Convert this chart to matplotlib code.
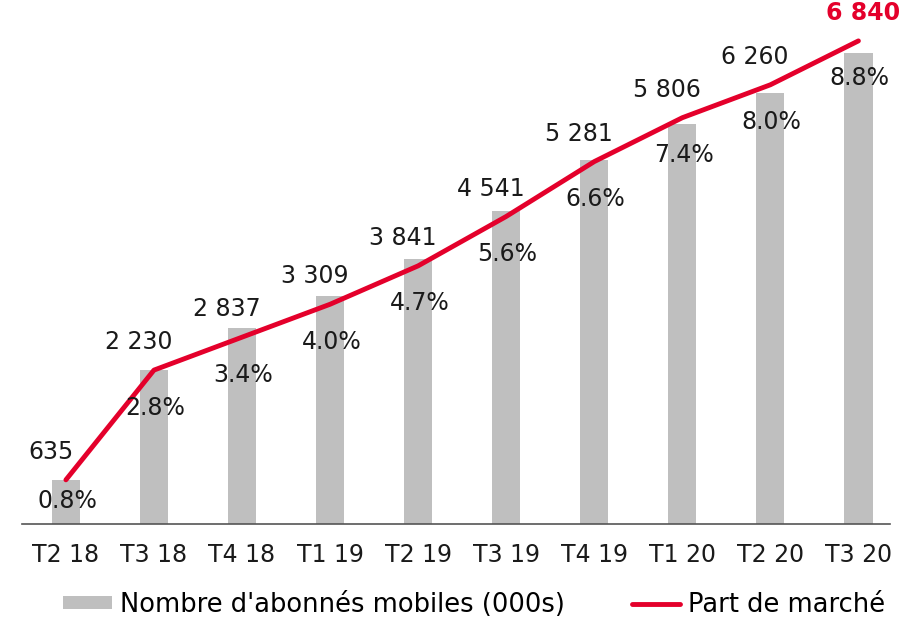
import matplotlib.pyplot as plt
import numpy as np

# ── Data ──────────────────────────────────────────────────────────────────────
quarters = ["T2 18", "T3 18", "T4 18", "T1 19", "T2 19", "T3 19", "T4 19", "T1 20", "T2 20", "T3 20"]
subscribers = [635, 2230, 2837, 3309, 3841, 4541, 5281, 5806, 6260, 6840]
market_share = [0.8, 2.8, 3.4, 4.0, 4.7, 5.6, 6.6, 7.4, 8.0, 8.8]

BAR_COLOR = "#BFBFBF"
LINE_COLOR = "#E4002B"
TEXT_COLOR = "#1a1a1a"
FS = 17

plt.rcParams["font.family"] = ["DejaVu Sans"]

fig = plt.figure(figsize=(9.12, 6.22), dpi=100)
ax = fig.add_axes([0.024, 0.158, 0.952, 0.808])
ax2 = ax.twinx()

x = np.arange(len(quarters))
ax.bar(x, subscribers, width=0.32, color=BAR_COLOR, zorder=1,
       label="Nombre d'abonnés mobiles (000s)")
ax2.plot(x, market_share, color=LINE_COLOR, lw=3.5, solid_capstyle="round",
         label="Part de marché", zorder=3)

ax.set_xlim(-0.5, 9.36)
ax.set_ylim(0, 7300)
ax2.set_ylim(0, 9.16)

for a in (ax, ax2):
    for side in ("top", "left", "right", "bottom"):
        a.spines[side].set_visible(False)
    a.set_yticks([])
ax.spines["bottom"].set_visible(True)
ax.spines["bottom"].set_color("#555555")
ax.spines["bottom"].set_linewidth(1.2)

ax.set_xticks(x)
ax.set_xticklabels(quarters, fontsize=FS, color=TEXT_COLOR)
ax.tick_params(axis="x", length=0, pad=14)

# value labels
n = len(subscribers)
for i, (v, s) in enumerate(zip(subscribers, market_share)):
    last = i == n - 1
    label = f"{v:,}".replace(",", " ")
    ax2.annotate(label, (i, s), xytext=(3 if last else -11, 20),
                 textcoords="offset points", ha="center", va="center",
                 fontsize=FS, color=LINE_COLOR if last else TEXT_COLOR,
                 fontweight="bold" if last else "normal", zorder=5,
                 annotation_clip=False)
    dy = -15 if i == 0 else -27
    ax2.annotate(f"{s:.1f}%", (i, s), xytext=(1, dy),
                 textcoords="offset points", ha="center", va="center",
                 fontsize=FS, color=TEXT_COLOR, zorder=5)

h1, l1 = ax.get_legend_handles_labels()
h2, l2 = ax2.get_legend_handles_labels()
fig.legend(h1 + h2, l1 + l2, loc="lower center", bbox_to_anchor=(0.52, -0.03),
           ncol=2, frameon=False, fontsize=18.5, handlelength=1.9,
           handleheight=0.4, columnspacing=2.6, handletextpad=0.3)

fig.savefig("out.png", dpi=100)
